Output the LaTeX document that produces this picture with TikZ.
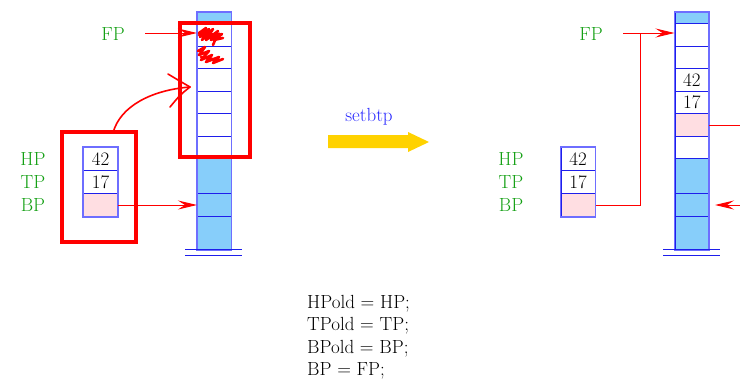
\documentclass[tikz,border=0pt]{standalone}
\usetikzlibrary{arrows.meta}
\definecolor{skyfill}{RGB}{135,206,250}
\definecolor{pinkfill}{RGB}{255,222,226}
\definecolor{cellline}{RGB}{30,30,235}
\definecolor{outerline}{RGB}{110,110,255}
\definecolor{goldarrow}{RGB}{255,210,0}
\definecolor{labelgreen}{RGB}{20,160,20}
\definecolor{textblue}{RGB}{40,40,255}
\begin{document}
\begin{tikzpicture}[x=1pt,y=-1pt,font=\fontsize{19}{23}\selectfont,
  cellbox/.style={draw=cellline,line width=1pt,minimum width=33.5pt,inner sep=0pt,anchor=north west},
  regbox/.style={draw=cellline,line width=1pt,minimum width=34pt,minimum height=23pt,inner sep=0pt,anchor=north west},
  outerbox/.style={draw=outerline,line width=1.8pt},
  regname/.style={text=labelgreen,anchor=base},
  redline/.style={draw=red,line width=0.9pt},
  redarrow/.style={draw=red,line width=0.9pt,-{Stealth[length=19pt,width=9pt,inset=7pt]}},
  annot/.style={draw=red,line width=3.2pt},
  scribble/.style={draw=red,line width=2.6pt,line join=round,line cap=round},
  ground/.style={draw=cellline,line width=0.9pt}]
\useasboundingbox (0,0) rectangle (740,380);
% ---------- left stack ----------
\foreach \n/\ya/\yb/\f/\t in {0/12/23/skyfill/,1/23/45.5/white/,2/45.5/68/white/,3/68/90.5/white/,4/90.5/113/white/,5/113/136/white/,6/136/158/white/,7/158/193/skyfill/,8/193/216/skyfill/,9/216/249/skyfill/}{
  \pgfmathsetmacro\h{\yb-\ya}
  \node[cellbox,fill=\f,minimum height=\h pt] (L\n) at (197,\ya) {\t};
}
\draw[outerbox] (L0.north west) rectangle (L9.south east);
\draw[ground] (185,249) -- (242,249);
\draw[ground] (185,255) -- (242,255);
% ---------- right stack ----------
\foreach \n/\ya/\yb/\f/\t in {0/12/23/skyfill/,1/23/45.5/white/,2/45.5/68/white/,3/68/90.5/white/42,4/90.5/113/white/17,5/113/136/pinkfill/,6/136/158/white/,7/158/193/skyfill/,8/193/216/skyfill/,9/216/249/skyfill/}{
  \pgfmathsetmacro\h{\yb-\ya}
  \node[cellbox,fill=\f,minimum height=\h pt] (R\n) at (674.5,\ya) {\t};
}
\draw[outerbox] (R0.north west) rectangle (R9.south east);
\draw[ground] (663,249) -- (720,249);
\draw[ground] (663,255) -- (720,255);
% ---------- registers ----------
\node[regbox] (lHP) at (83,147) {42};
\node[regbox] (lTP) at (83,170) {17};
\node[regbox,fill=pinkfill] (lBP) at (83,193) {};
\draw[outerbox,line width=1.2pt] (lHP.north west) rectangle (lBP.south east);
\node[regbox] (rHP) at (560.5,147) {42};
\node[regbox] (rTP) at (560.5,170) {17};
\node[regbox,fill=pinkfill] (rBP) at (560.5,193) {};
\draw[outerbox,line width=1.2pt] (rHP.north west) rectangle (rBP.south east);
% ---------- labels ----------
\node[regname] (lHPn) at (33,165) {HP};
\node[regname] (lTPn) at (33,188) {TP};
\node[regname] (lBPn) at (33,211) {BP};
\node[regname] (rHPn) at (511,165) {HP};
\node[regname] (rTPn) at (511,188) {TP};
\node[regname] (rBPn) at (511,211) {BP};
\node[regname] (lFP) at (113,40) {FP};
\node[regname] (rFP) at (591,40) {FP};
% ---------- left connectors ----------
\coordinate (lFPs) at (145,33);
\draw[redarrow] (lFPs) -- (L1.west |- lFPs);
\draw[redarrow] (lBP.east) -- (L8.west |- lBP.east);
% ---------- right connectors ----------
\coordinate (rFPs) at (623,33);
\coordinate (rJ) at (640,33);
\draw[redarrow] (rFPs) -- (R1.west |- rFPs);
\draw[redline] (rBP.east) -| (rJ);
\coordinate (rOut) at (740,125);
\draw[redline] (R5.east) -- (rOut);
\coordinate (rIn) at (740,205);
\draw[redarrow,shorten >=6pt] (rIn) -- (R8.east |- rIn);
% ---------- annotations ----------
\draw[annot] (180,23) rectangle (250,157);
\draw[annot] (62,132) rectangle (136,242);
\draw[red,line width=1.6pt,line cap=round] (113,133) .. controls (120,106) and (152,90) .. (190,87);
\draw[red,line width=1.6pt,line cap=round,line join=round] (168,74) .. controls (178,80) .. (190,87) .. controls (180,95) .. (170,107);
\draw[scribble] (199,33) -- (206,28) -- (200,37) -- (209,29) -- (202,40) -- (213,29) -- (206,40) -- (218,31) -- (211,40) -- (222,34) -- (214,40) -- (223,38);
\draw[scribble] (199,35) -- (220,34);
\draw[scribble] (216,38) -- (213,45);
\draw[scribble] (198,51) -- (205,47) -- (199,55) -- (209,51) -- (201,60) -- (212,55) -- (206,62) -- (219,57) -- (213,63) -- (223,59);
\draw[scribble] (201,57) -- (218,60);
% ---------- transition arrow ----------
\node[text=textblue,anchor=base] (op) at (369,121) {setbtp};
\fill[goldarrow] (328,135) -- (408,135) -- (408,132) -- (429,142) -- (408,152) -- (408,148) -- (328,148) -- cycle;
% ---------- code ----------
\node[anchor=base west,inner sep=0pt] (c1) at (307,308) {HPold = HP;};
\node[anchor=base west,inner sep=0pt] (c2) at (307,330.5) {TPold = TP;};
\node[anchor=base west,inner sep=0pt] (c3) at (307,353) {BPold = BP;};
\node[anchor=base west,inner sep=0pt] (c4) at (307,375.5) {BP = FP;};
\end{tikzpicture}
\end{document}
